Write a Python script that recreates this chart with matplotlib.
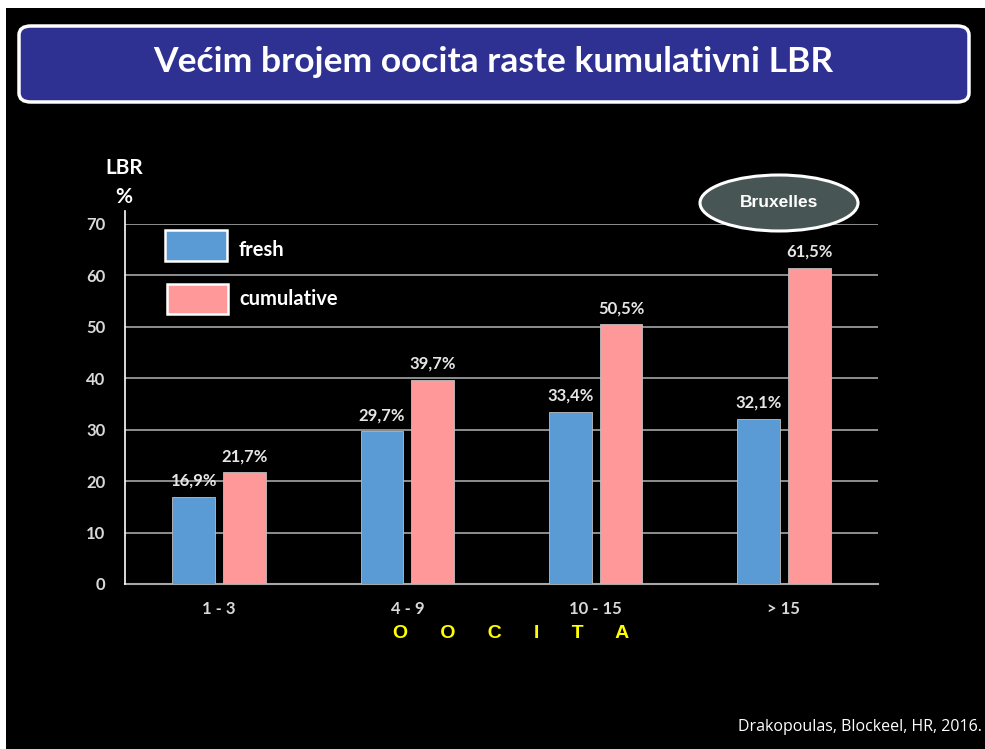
import matplotlib
matplotlib.use("Agg")
import matplotlib.pyplot as plt
import numpy as np
from matplotlib.patches import FancyBboxPatch, Ellipse, Rectangle

categories = ["1 - 3", "4 - 9", "10 - 15", "> 15"]
fresh = [16.9, 29.7, 33.4, 32.1]
cumulative = [21.7, 39.7, 50.5, 61.5]
fresh_labels = ["16,9%", "29,7%", "33,4%", "32,1%"]
cum_labels = ["21,7%", "39,7%", "50,5%", "61,5%"]
yticks = [0, 10, 20, 30, 40, 50, 60, 70]

W, H = 985, 749
fig = plt.figure(figsize=(W / 100, H / 100), dpi=100)
fig.patch.set_facecolor("black")

# white margins of the slide screenshot
fig.patches.append(Rectangle((0, 1 - 8 / H), 1, 8 / H, transform=fig.transFigure,
                             facecolor="white", edgecolor="none", zorder=0))
fig.patches.append(Rectangle((0, 0), 6 / W, 1, transform=fig.transFigure,
                             facecolor="white", edgecolor="none", zorder=0))

# title box
tb = FancyBboxPatch((19 / W, 1 - 102 / H), 950 / W, 76 / H,
                    boxstyle="round,pad=0,rounding_size=0.012",
                    transform=fig.transFigure, facecolor="#2E3192",
                    edgecolor="white", linewidth=2.5, zorder=1)
fig.patches.append(tb)
fig.text(493 / W, 1 - 62 / H, "Većim brojem oocita raste kumulativni LBR",
         color="white", fontsize=25.5, fontweight="bold", family="Lato",
         ha="center", va="center")

ax = fig.add_axes([125 / W, (H - 584) / H, 753 / W, 360 / H])
ax.set_zorder(2)
ax.set_facecolor("black")
x = np.arange(len(categories))
w = 0.228
off = 0.135
ax.bar(x - off, fresh, w, color="#5B9BD5", edgecolor="#BFBFBF", linewidth=0.6, zorder=3)
ax.bar(x + off, cumulative, w, color="#FF9999", edgecolor="#BFBFBF", linewidth=0.6, zorder=3)

for i in range(len(categories)):
    ax.text(x[i] - off, fresh[i] + 1.6, fresh_labels[i], ha="center", va="bottom",
            color="#E6E6E6", fontsize=12, fontweight="bold", family="Lato")
    ax.text(x[i] + off, cumulative[i] + 1.6, cum_labels[i], ha="center", va="bottom",
            color="#E6E6E6", fontsize=12, fontweight="bold", family="Lato")

ax.set_xlim(-0.5, 3.5)
ax.set_ylim(0, 70)
ax.set_yticks(yticks)
ax.set_xticks(x)
ax.set_xticklabels(categories)
ax.yaxis.grid(True, color="#A6A6A6", linewidth=1.2, zorder=0)
ax.set_axisbelow(True)
for s in ["top", "right"]:
    ax.spines[s].set_visible(False)
ax.spines["left"].set_visible(False)
# y axis line runs a bit above the 70 gridline
ax.plot([-0.5, -0.5], [0, 72.5], color="white", linewidth=1.2, clip_on=False, zorder=4)
ax.spines["bottom"].set_color("#A6A6A6")
ax.spines["bottom"].set_linewidth(1.5)
ax.tick_params(axis="both", length=0, colors="#D9D9D9", labelsize=12)
ax.tick_params(axis="y", pad=14)
ax.tick_params(axis="x", pad=12)
for lab in ax.get_xticklabels() + ax.get_yticklabels():
    lab.set_fontweight("bold")
    lab.set_family("Lato")

# LBR % label
fig.text(124 / W, 1 - 168 / H, "LBR", color="white", fontsize=15, fontweight="bold",
         family="Lato", ha="center", va="center")
fig.text(124 / W, 1 - 197 / H, "%", color="white", fontsize=15, fontweight="bold",
         family="Lato", ha="center", va="center")

# legend
fig.patches.append(Rectangle((165 / W, 1 - 261 / H), 62 / W, 31 / H, transform=fig.transFigure,
                             facecolor="#5B9BD5", edgecolor="white", linewidth=1.8, zorder=3))
fig.patches.append(Rectangle((167 / W, 1 - 314 / H), 61 / W, 30 / H, transform=fig.transFigure,
                             facecolor="#FF9999", edgecolor="white", linewidth=1.8, zorder=3))
fig.text(239 / W, 1 - 250 / H, "fresh", color="white", fontsize=14.5, fontweight="bold",
         family="Lato", ha="left", va="center", zorder=4)
fig.text(239 / W, 1 - 299 / H, "cumulative", color="white", fontsize=14.5, fontweight="bold",
         family="Lato", ha="left", va="center", zorder=4)

# Bruxelles ellipse
el = Ellipse((779 / W, 1 - 203 / H), 158 / W, 56 / H, transform=fig.transFigure,
             facecolor="#475655", edgecolor="white", linewidth=2.2, zorder=3)
fig.patches.append(el)
fig.text(779 / W, 1 - 203 / H, "Bruxelles", color="white", fontsize=12.5, fontweight="bold",
         family="Liberation Sans", ha="center", va="center", zorder=4)

# x axis title
fig.text(511 / W, 1 - 634 / H, "O      O      C      I      T      A", color="#FFFF00",
         fontsize=14, fontweight="bold", family="Liberation Sans", ha="center", va="center")

# citation
fig.text(982 / W, 1 - 727 / H, "Drakopoulas, Blockeel, HR, 2016.", color="white",
         fontsize=11.5, family="Open Sans", ha="right", va="center")

fig.savefig("out.png", dpi=100, facecolor=fig.get_facecolor())
